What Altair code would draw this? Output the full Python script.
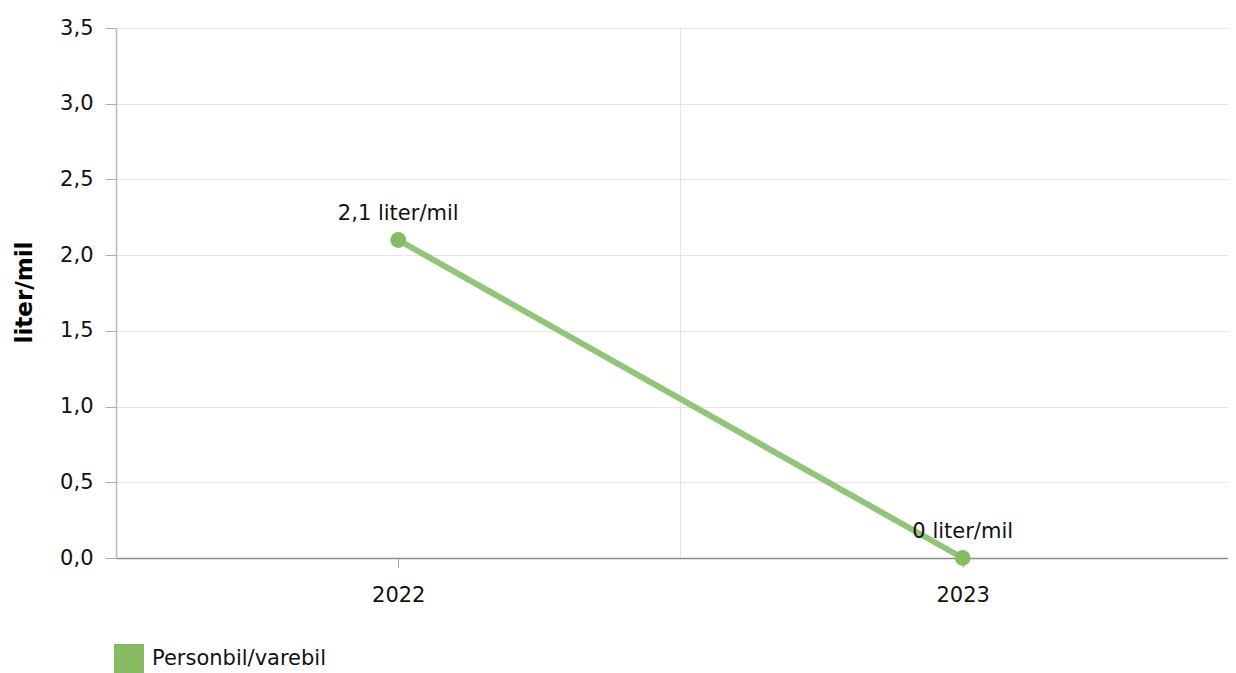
import altair as alt
import pandas as pd

years = [2022, 2023]
values = [2.1, 0.0]
series = ["Personbil/varebil", "Personbil/varebil"]
grid_x = [2022.5]

df = pd.DataFrame({"year": years, "value": values, "series": series})
gdf = pd.DataFrame({"gx": grid_x})

FONT = "DejaVu Sans"
FS = 21
xscale = alt.Scale(domain=[2021.5, 2023.47], nice=False, zero=False)
yscale = alt.Scale(domain=[0, 3.5], nice=False)

xaxis = alt.Axis(values=years, format="d", grid=False, title=None, tickSize=9,
                 tickColor="#a0a0a0", domainColor="#8c8c8c", domainWidth=1.5,
                 labelFontSize=FS, labelPadding=17, labelColor="#111111", labelFont=FONT)
yaxis = alt.Axis(values=[0, 0.5, 1, 1.5, 2, 2.5, 3, 3.5],
                 labelExpr="replace(format(datum.value, '.1f'), '.', ',')",
                 title="liter/mil", titleFontSize=23, titleFont=FONT, titleFontWeight="bold",
                 titleColor="#000000", titleX=-92, titleY=264, titleAngle=-90,
                 titleAlign="center", titleBaseline="middle",
                 tickSize=11, tickColor="#b0b0b0", domainColor="#b8b8b8", domainWidth=1.5,
                 gridColor="#e6e6e6", gridWidth=1,
                 labelFontSize=FS, labelPadding=12, labelColor="#111111", labelFont=FONT)

grid = alt.Chart(gdf).mark_rule(color="#e2e2e2", strokeWidth=1).encode(
    x=alt.X("gx:Q", scale=xscale, axis=xaxis),
    y=alt.value(0), y2=alt.value(530))

color = alt.Color("series:N", scale=alt.Scale(range=["#86bb63"]),
                  legend=alt.Legend(title=None, orient="none", legendX=-2, legendY=616,
                                    symbolType="square", symbolSize=900,
                                    symbolStrokeWidth=0, labelFontSize=FS, labelFont=FONT,
                                    labelColor="#111111", labelOffset=8, labelLimit=400))

line = alt.Chart(df).mark_line(color="#93c47a", strokeWidth=6).encode(
    x=alt.X("year:Q", scale=xscale, axis=xaxis),
    y=alt.Y("value:Q", scale=yscale, axis=yaxis))

pts = alt.Chart(df).mark_point(filled=True, size=250, opacity=1, shape="circle").encode(
    x=alt.X("year:Q", scale=xscale, axis=xaxis),
    y=alt.Y("value:Q", scale=yscale, axis=yaxis),
    color=color)

labels = alt.Chart(df).transform_calculate(
    lbl="replace(format(datum.value, '.1~f'), '.', ',') + ' liter/mil'"
).mark_text(dy=-26, fontSize=FS, font=FONT, color="#111111").encode(
    x=alt.X("year:Q", scale=xscale, axis=xaxis),
    y=alt.Y("value:Q", scale=yscale, axis=yaxis),
    text="lbl:N")

chart = alt.layer(grid, line, pts, labels).properties(
    width=1112, height=530,
    autosize=alt.AutoSizeParams(type="none"),
    padding={"left": 108, "top": 20, "right": 0, "bottom": 115},
).configure_view(stroke=None).configure_axis(labelFont=FONT)

chart.save("out.html", embed_options={"renderer": "svg", "actions": False})
